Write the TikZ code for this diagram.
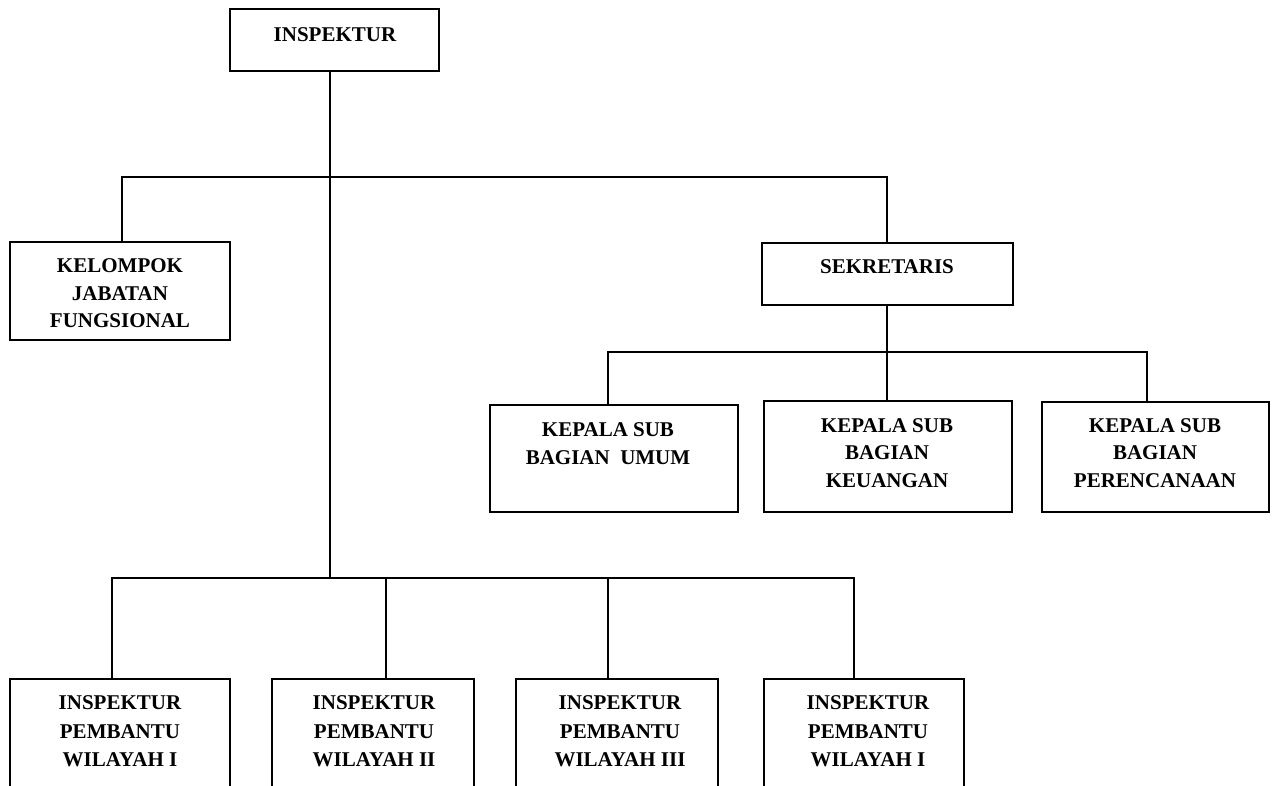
\documentclass[tikz,border=0pt]{standalone}
\usepackage{fontspec}
\setmainfont{Liberation Serif}
\begin{document}
\begin{tikzpicture}[x=1pt,y=-1pt,
  box/.style={draw, line width=1.5pt, inner sep=0pt, outer sep=0pt},
  lbl/.style={font=\bfseries\fontsize{21}{27.5}\selectfont, align=center, inner sep=0pt},
  lblb/.style={font=\bfseries\fontsize{21}{28.5}\selectfont, align=center, inner sep=0pt},
  conn/.style={line width=1.5pt}]
\useasboundingbox (0,0) rectangle (1275,785);
\clip (0,0) rectangle (1275,785);
\fill[white] (0,0) rectangle (1275,785);
% boxes
\node[box, minimum width=209pt, minimum height=62pt] (insp) at (334.5,40) {};
\node[box, minimum width=220pt, minimum height=98pt] (kjf) at (120,291) {};
\node[box, minimum width=251pt, minimum height=62pt] (sek) at (887.5,274) {};
\node[box, minimum width=248pt, minimum height=107pt] (ku) at (614,458.5) {};
\node[box, minimum width=248pt, minimum height=111pt] (kk) at (888,456.5) {};
\node[box, minimum width=227pt, minimum height=110pt] (kp) at (1155.5,457) {};
\node[box, minimum width=220pt, minimum height=150pt] (w1) at (120,754) {};
\node[box, minimum width=202pt, minimum height=150pt] (w2) at (373,754) {};
\node[box, minimum width=202pt, minimum height=150pt] (w3) at (617,754) {};
\node[box, minimum width=200pt, minimum height=150pt] (w4) at (864,754) {};
% labels
\node[lbl] (tinsp) at (335,34.5) {INSPEKTUR};
\node[lbl] (tkjf) at (120,293.5) {KELOMPOK\\JABATAN\\FUNGSIONAL};
\node[lbl] (tsek) at (887,266.5) {SEKRETARIS};
\node[lbl] (tku) at (608,443.5) {KEPALA SUB\\BAGIAN\ \ UMUM};
\node[lbl] (tkk) at (887,453) {KEPALA SUB\\BAGIAN\\KEUANGAN};
\node[lbl] (tkp) at (1155,453) {KEPALA SUB\\BAGIAN\\PERENCANAAN};
\node[lblb] (tw1) at (120,731.5) {INSPEKTUR\\PEMBANTU\\WILAYAH I};
\node[lblb] (tw2) at (374,731.5) {INSPEKTUR\\PEMBANTU\\WILAYAH II};
\node[lblb] (tw3) at (620,731.5) {INSPEKTUR\\PEMBANTU\\WILAYAH III};
\node[lblb] (tw4) at (868,731.5) {INSPEKTUR\\PEMBANTU\\WILAYAH I};
% junctions
\coordinate (j1) at (330,177);
\coordinate (j2) at (330,578);
\coordinate (a1) at (122,177);
\coordinate (a2) at (887,177);
\coordinate (b0) at (887,352);
\coordinate (b1) at (608,352);
\coordinate (b2) at (1147,352);
\coordinate (c1) at (112,578);
\coordinate (c2) at (386,578);
\coordinate (c3) at (608,578);
\coordinate (c4) at (854,578);
% connectors
\draw[conn] (insp.south -| j1) -- (j2);
\draw[conn] (kjf.north -| a1) -- (a1) -- (a2) -- (sek.north -| a2);
\draw[conn] (sek.south -| b0) -- (b0);
\draw[conn] (ku.north -| b1) -- (b1) -- (b2) -- (kp.north -| b2);
\draw[conn] (kk.north -| b0) -- (b0);
\draw[conn] (w1.north -| c1) -- (c1) -- (c4) -- (w4.north -| c4);
\draw[conn] (w2.north -| c2) -- (c2);
\draw[conn] (w3.north -| c3) -- (c3);
\end{tikzpicture}
\end{document}
